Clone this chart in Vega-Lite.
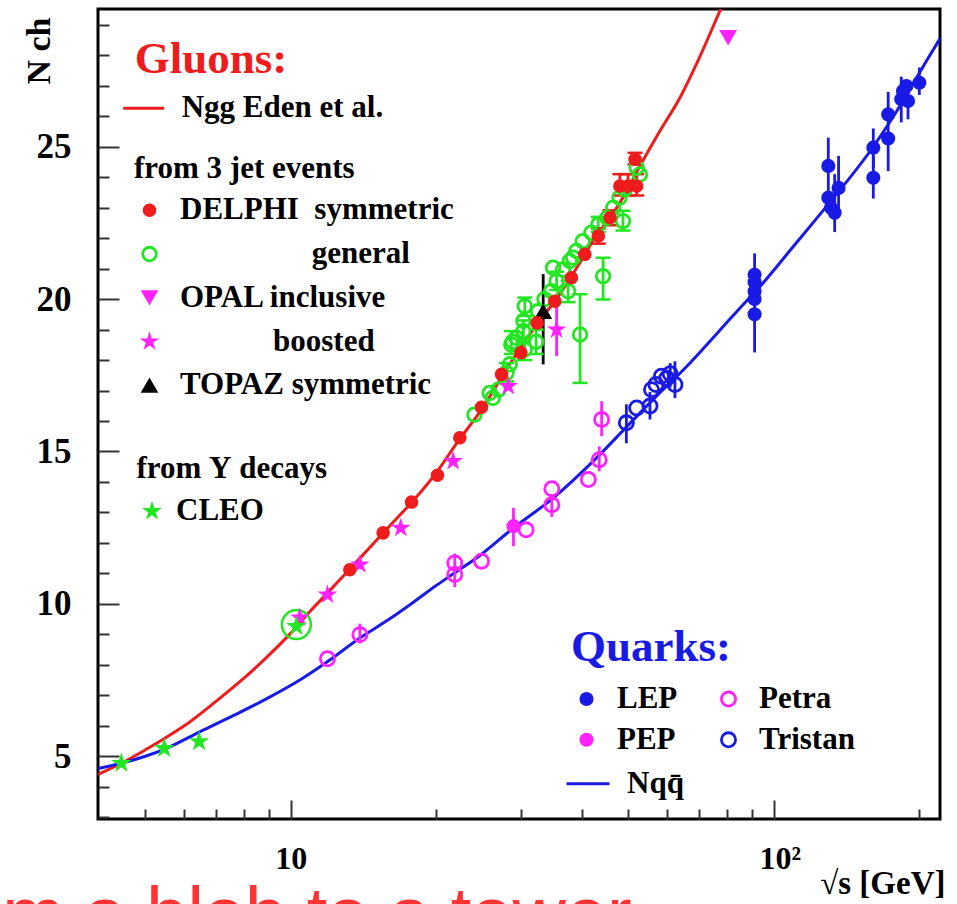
{
  "$schema": "https://vega.github.io/schema/vega-lite/v6.json",
  "width": 842,
  "height": 810,
  "autosize": {"type": "none"},
  "padding": {"left": 98, "top": 9, "right": 17, "bottom": 85},
  "background": "white",
  "config": {"view": {"stroke": "black", "strokeWidth": 3}, "axis": {"labelOverlap": false, "labelBound": false}},
  "title": {"text": "from a blob to a tower", "orient": "bottom", "anchor": "start", "frame": "group", "font": "Liberation Sans", "fontSize": 74, "fontWeight": "normal", "color": "#ff3333", "dx": -182, "dy": -19, "offset": 0},
  "encoding": {
    "x": {
      "field": "x", "type": "quantitative",
      "scale": {"type": "log", "domain": [3.99, 220.7], "nice": false},
      "axis": {
        "values": [5, 6, 7, 8, 9, 10, 20, 30, 40, 50, 60, 70, 80, 90, 100, 200],
        "domain": false, "grid": false,
        "tickColor": "#333333", "tickWidth": 2,
        "tickSize": {"condition": {"test": "datum.value === 10 || datum.value === 100", "value": -19}, "value": -10},
        "labelExpr": "datum.value === 10 ? '10' : datum.value === 100 ? '10²' : ''",
        "labelPadding": 43,
        "labelFont": "Liberation Serif", "labelFontWeight": "bold", "labelFontSize": 32, "labelColor": "black",
        "labelOverlap": false, "labelFlush": false,
        "labelAlign": {"condition": {"test": "datum.value === 100", "value": "left"}, "value": "center"},
        "labelOffset": {"condition": {"test": "datum.value === 100", "value": -15}, "value": 0},
        "title": "√s [GeV]",
        "titleFont": "Liberation Serif", "titleFontWeight": "bold", "titleFontSize": 33, "titleColor": "black",
        "titleAlign": "right", "titleBaseline": "alphabetic", "titleX": 847, "titleY": 74
      }
    },
    "y": {
      "field": "y", "type": "quantitative",
      "scale": {"domain": [2.94, 29.52], "nice": false, "zero": false},
      "axis": {
        "values": [3, 4, 5, 6, 7, 8, 9, 10, 11, 12, 13, 14, 15, 16, 17, 18, 19, 20, 21, 22, 23, 24, 25, 26, 27, 28, 29],
        "domain": false, "grid": false,
        "tickColor": "#333333", "tickWidth": 2,
        "tickSize": {"condition": {"test": "datum.value % 5 === 0", "value": -21}, "value": -11},
        "labelExpr": "(datum.value == 5 || datum.value == 10 || datum.value == 15 || datum.value == 20 || datum.value == 25) ? datum.label : ''",
        "labelFontSize": 35,
        "labelPadding": 48, "labelSeparation": 0,
        "labelFont": "Liberation Serif", "labelFontWeight": "bold", "labelColor": "black",
        "labelOverlap": "greedy", "labelFlush": false, "labelBound": false,
        "title": "N ch",
        "titleFont": "Liberation Serif", "titleFontWeight": "bold", "titleFontSize": 34, "titleColor": "black",
        "titleAngle": 270, "titleAlign": "right", "titleBaseline": "middle", "titleX": -59, "titleY": 8
      }
    }
  },
  "datasets": {
    "curves": [
      {"curve": "Ngg Eden et al.", "x": 3.99, "y": 4.40},
      {"curve": "Ngg Eden et al.", "x": 4.46, "y": 4.77},
      {"curve": "Ngg Eden et al.", "x": 5.0, "y": 5.21},
      {"curve": "Ngg Eden et al.", "x": 5.5, "y": 5.60},
      {"curve": "Ngg Eden et al.", "x": 6.0, "y": 5.98},
      {"curve": "Ngg Eden et al.", "x": 7.0, "y": 6.80},
      {"curve": "Ngg Eden et al.", "x": 8.0, "y": 7.56},
      {"curve": "Ngg Eden et al.", "x": 9.0, "y": 8.31},
      {"curve": "Ngg Eden et al.", "x": 10.0, "y": 9.04},
      {"curve": "Ngg Eden et al.", "x": 11.0, "y": 9.78},
      {"curve": "Ngg Eden et al.", "x": 12.0, "y": 10.41},
      {"curve": "Ngg Eden et al.", "x": 13.0, "y": 11.0},
      {"curve": "Ngg Eden et al.", "x": 14.0, "y": 11.55},
      {"curve": "Ngg Eden et al.", "x": 16.0, "y": 12.55},
      {"curve": "Ngg Eden et al.", "x": 18.0, "y": 13.42},
      {"curve": "Ngg Eden et al.", "x": 20.0, "y": 14.3},
      {"curve": "Ngg Eden et al.", "x": 22.0, "y": 15.25},
      {"curve": "Ngg Eden et al.", "x": 25.0, "y": 16.45},
      {"curve": "Ngg Eden et al.", "x": 28.0, "y": 17.72},
      {"curve": "Ngg Eden et al.", "x": 32.0, "y": 19.08},
      {"curve": "Ngg Eden et al.", "x": 36.0, "y": 20.15},
      {"curve": "Ngg Eden et al.", "x": 40.0, "y": 21.29},
      {"curve": "Ngg Eden et al.", "x": 43.0, "y": 22.12},
      {"curve": "Ngg Eden et al.", "x": 45.0, "y": 22.5},
      {"curve": "Ngg Eden et al.", "x": 48.7, "y": 23.33},
      {"curve": "Ngg Eden et al.", "x": 53.5, "y": 24.53},
      {"curve": "Ngg Eden et al.", "x": 58.0, "y": 25.5},
      {"curve": "Ngg Eden et al.", "x": 63.9, "y": 26.61},
      {"curve": "Ngg Eden et al.", "x": 70.0, "y": 27.9},
      {"curve": "Ngg Eden et al.", "x": 77.3, "y": 29.46},
      {"curve": "Ngg Eden et al.", "x": 82.0, "y": 30.4},
      {"curve": "Nqq̄", "x": 3.99, "y": 4.6},
      {"curve": "Nqq̄", "x": 4.46, "y": 4.77},
      {"curve": "Nqq̄", "x": 5.0, "y": 5.0},
      {"curve": "Nqq̄", "x": 5.53, "y": 5.26},
      {"curve": "Nqq̄", "x": 6.48, "y": 5.8},
      {"curve": "Nqq̄", "x": 7.6, "y": 6.33},
      {"curve": "Nqq̄", "x": 8.9, "y": 6.88},
      {"curve": "Nqq̄", "x": 10.44, "y": 7.5},
      {"curve": "Nqq̄", "x": 11.9, "y": 8.1},
      {"curve": "Nqq̄", "x": 13.9, "y": 8.88},
      {"curve": "Nqq̄", "x": 16.0, "y": 9.5},
      {"curve": "Nqq̄", "x": 18.0, "y": 10.07},
      {"curve": "Nqq̄", "x": 20.0, "y": 10.6},
      {"curve": "Nqq̄", "x": 21.85, "y": 11.02},
      {"curve": "Nqq̄", "x": 24.6, "y": 11.58},
      {"curve": "Nqq̄", "x": 28.8, "y": 12.47},
      {"curve": "Nqq̄", "x": 34.9, "y": 13.47},
      {"curve": "Nqq̄", "x": 43.0, "y": 14.8},
      {"curve": "Nqq̄", "x": 49.5, "y": 15.8},
      {"curve": "Nqq̄", "x": 57.0, "y": 16.8},
      {"curve": "Nqq̄", "x": 65.9, "y": 17.78},
      {"curve": "Nqq̄", "x": 76.0, "y": 18.85},
      {"curve": "Nqq̄", "x": 85.0, "y": 19.7},
      {"curve": "Nqq̄", "x": 93.4, "y": 20.4},
      {"curve": "Nqq̄", "x": 110.0, "y": 21.75},
      {"curve": "Nqq̄", "x": 128.6, "y": 23.05},
      {"curve": "Nqq̄", "x": 160.6, "y": 25.0},
      {"curve": "Nqq̄", "x": 185.0, "y": 26.5},
      {"curve": "Nqq̄", "x": 206.6, "y": 27.8},
      {"curve": "Nqq̄", "x": 220.7, "y": 28.55}
    ],
    "hl": [{"x": 10.27, "y": 9.32}],
    "pts": [
      {"series": "DELPHI\u00a0\u00a0symmetric", "x": 13.25, "y": 11.12},
      {"series": "DELPHI\u00a0\u00a0symmetric", "x": 15.53, "y": 12.33},
      {"series": "DELPHI\u00a0\u00a0symmetric", "x": 17.78, "y": 13.34},
      {"series": "DELPHI\u00a0\u00a0symmetric", "x": 20.12, "y": 14.22},
      {"series": "DELPHI\u00a0\u00a0symmetric", "x": 22.38, "y": 15.45},
      {"series": "DELPHI\u00a0\u00a0symmetric", "x": 24.82, "y": 16.45},
      {"series": "DELPHI\u00a0\u00a0symmetric", "x": 27.31, "y": 17.53},
      {"series": "DELPHI\u00a0\u00a0symmetric", "x": 29.94, "y": 18.24},
      {"series": "DELPHI\u00a0\u00a0symmetric", "x": 32.36, "y": 19.22},
      {"series": "DELPHI\u00a0\u00a0symmetric", "x": 35.2, "y": 19.93},
      {"series": "DELPHI\u00a0\u00a0symmetric", "x": 38.1, "y": 20.7},
      {"series": "DELPHI\u00a0\u00a0symmetric", "x": 40.6, "y": 21.47},
      {"series": "DELPHI\u00a0\u00a0symmetric", "x": 43.3, "y": 22.07, "lo": 21.82, "hi": 22.32},
      {"series": "DELPHI\u00a0\u00a0symmetric", "x": 45.8, "y": 22.67, "lo": 22.42, "hi": 22.92},
      {"series": "DELPHI\u00a0\u00a0symmetric", "x": 48.0, "y": 23.71, "lo": 23.4, "hi": 24.1},
      {"series": "DELPHI\u00a0\u00a0symmetric", "x": 49.9, "y": 23.71, "lo": 23.4, "hi": 24.1},
      {"series": "DELPHI\u00a0\u00a0symmetric", "x": 52.0, "y": 23.71, "lo": 23.4, "hi": 24.1},
      {"series": "DELPHI\u00a0\u00a0symmetric", "x": 51.6, "y": 24.59, "lo": 24.42, "hi": 24.8},
      {"series": "general", "x": 24.0, "y": 16.21},
      {"series": "general", "x": 25.8, "y": 16.92},
      {"series": "general", "x": 26.2, "y": 16.76},
      {"series": "general", "x": 26.9, "y": 17.03},
      {"series": "general", "x": 27.96, "y": 17.58, "lo": 17.3, "hi": 17.9},
      {"series": "general", "x": 28.4, "y": 17.86},
      {"series": "general", "x": 28.6, "y": 18.51, "lo": 18.2, "hi": 18.95},
      {"series": "general", "x": 28.8, "y": 18.6},
      {"series": "general", "x": 29.3, "y": 18.73},
      {"series": "general", "x": 30.3, "y": 18.95, "lo": 18.6, "hi": 19.3},
      {"series": "general", "x": 30.3, "y": 19.28},
      {"series": "general", "x": 30.5, "y": 19.77, "lo": 19.45, "hi": 20.05},
      {"series": "general", "x": 30.5, "y": 18.35, "lo": 18.0, "hi": 18.7},
      {"series": "general", "x": 32.2, "y": 18.6, "lo": 18.2, "hi": 19.0},
      {"series": "general", "x": 32.5, "y": 19.6},
      {"series": "general", "x": 33.5, "y": 20.0},
      {"series": "general", "x": 34.6, "y": 20.26},
      {"series": "general", "x": 34.9, "y": 21.03},
      {"series": "general", "x": 35.5, "y": 20.59, "lo": 20.3, "hi": 20.9},
      {"series": "general", "x": 36.6, "y": 20.97},
      {"series": "general", "x": 37.5, "y": 20.26, "lo": 19.9, "hi": 20.6},
      {"series": "general", "x": 37.8, "y": 21.25},
      {"series": "general", "x": 38.4, "y": 21.36},
      {"series": "general", "x": 39.0, "y": 21.58},
      {"series": "general", "x": 39.7, "y": 18.84, "lo": 17.25, "hi": 20.16},
      {"series": "general", "x": 40.2, "y": 21.9},
      {"series": "general", "x": 41.9, "y": 22.18},
      {"series": "general", "x": 43.3, "y": 22.45, "lo": 22.2, "hi": 22.7},
      {"series": "general", "x": 44.3, "y": 20.75, "lo": 19.99, "hi": 21.36},
      {"series": "general", "x": 45.2, "y": 22.67},
      {"series": "general", "x": 46.5, "y": 23.0},
      {"series": "general", "x": 47.9, "y": 23.33},
      {"series": "general", "x": 48.7, "y": 22.56, "lo": 22.25, "hi": 22.9},
      {"series": "general", "x": 49.1, "y": 23.6},
      {"series": "general", "x": 52.0, "y": 24.31},
      {"series": "general", "x": 52.8, "y": 24.09},
      {"series": "boosted", "x": 10.44, "y": 9.55},
      {"series": "boosted", "x": 11.91, "y": 10.3},
      {"series": "boosted", "x": 13.9, "y": 11.29},
      {"series": "boosted", "x": 16.89, "y": 12.49},
      {"series": "boosted", "x": 21.68, "y": 14.68},
      {"series": "boosted", "x": 28.2, "y": 17.14},
      {"series": "boosted", "x": 35.5, "y": 19.0, "lo": 18.13, "hi": 19.84},
      {"series": "OPAL inclusive", "x": 80.4, "y": 28.58},
      {"series": "TOPAZ symmetric", "x": 33.3, "y": 19.6, "lo": 17.86, "hi": 20.82},
      {"series": "CLEO", "x": 4.46, "y": 4.77},
      {"series": "CLEO", "x": 5.47, "y": 5.26},
      {"series": "CLEO", "x": 6.46, "y": 5.48},
      {"series": "CLEO", "x": 10.27, "y": 9.26},
      {"series": "LEP", "x": 91.2, "y": 20.8, "lo": 20.1, "hi": 21.5},
      {"series": "LEP", "x": 91.2, "y": 20.55},
      {"series": "LEP", "x": 91.2, "y": 20.25},
      {"series": "LEP", "x": 91.2, "y": 20.0},
      {"series": "LEP", "x": 91.2, "y": 19.5, "lo": 18.25, "hi": 20.3},
      {"series": "LEP", "x": 129.6, "y": 24.37, "lo": 23.4, "hi": 25.3},
      {"series": "LEP", "x": 129.6, "y": 23.33},
      {"series": "LEP", "x": 131.3, "y": 23.0},
      {"series": "LEP", "x": 133.6, "y": 22.83, "lo": 22.2, "hi": 24.1},
      {"series": "LEP", "x": 136.1, "y": 23.65, "lo": 22.7, "hi": 24.7},
      {"series": "LEP", "x": 160.6, "y": 24.97, "lo": 24.3, "hi": 25.6},
      {"series": "LEP", "x": 160.6, "y": 23.98, "lo": 23.3, "hi": 24.7},
      {"series": "LEP", "x": 172.4, "y": 26.06, "lo": 24.2, "hi": 26.8},
      {"series": "LEP", "x": 172.4, "y": 25.27},
      {"series": "LEP", "x": 183.5, "y": 26.56, "lo": 25.8, "hi": 27.3},
      {"series": "LEP", "x": 185.0, "y": 26.83},
      {"series": "LEP", "x": 188.0, "y": 26.99},
      {"series": "LEP", "x": 189.5, "y": 26.5, "lo": 25.9, "hi": 27.1},
      {"series": "LEP", "x": 200.0, "y": 27.1, "lo": 26.7, "hi": 27.6},
      {"series": "Petra", "x": 11.91, "y": 8.2},
      {"series": "Petra", "x": 13.9, "y": 8.99, "lo": 8.7, "hi": 9.35},
      {"series": "Petra", "x": 21.85, "y": 11.34, "lo": 11.1, "hi": 11.65},
      {"series": "Petra", "x": 21.85, "y": 10.96, "lo": 10.55, "hi": 11.2},
      {"series": "Petra", "x": 24.82, "y": 11.4},
      {"series": "Petra", "x": 30.7, "y": 12.43},
      {"series": "Petra", "x": 34.7, "y": 13.78},
      {"series": "Petra", "x": 34.7, "y": 13.25, "lo": 12.85, "hi": 13.6},
      {"series": "Petra", "x": 41.3, "y": 14.08},
      {"series": "Petra", "x": 43.5, "y": 14.73, "lo": 14.35, "hi": 15.17},
      {"series": "Petra", "x": 44.0, "y": 16.05, "lo": 15.5, "hi": 16.65},
      {"series": "PEP", "x": 28.9, "y": 12.55, "lo": 11.89, "hi": 13.15},
      {"series": "Tristan", "x": 49.5, "y": 15.94, "lo": 15.27, "hi": 16.55},
      {"series": "Tristan", "x": 52.0, "y": 16.43},
      {"series": "Tristan", "x": 55.4, "y": 16.49, "lo": 16.05, "hi": 16.95},
      {"series": "Tristan", "x": 55.8, "y": 17.03},
      {"series": "Tristan", "x": 57.0, "y": 17.2},
      {"series": "Tristan", "x": 58.5, "y": 17.47},
      {"series": "Tristan", "x": 60.0, "y": 17.4},
      {"series": "Tristan", "x": 62.4, "y": 17.2, "lo": 16.75, "hi": 17.96},
      {"series": "Tristan", "x": 61.0, "y": 17.55, "lo": 17.1, "hi": 17.9}
    ]
  },
  "layer": [
    {
      "data": {"name": "curves"},
      "transform": [{"filter": {"field": "curve", "equal": "Ngg Eden et al."}}],
      "mark": {"type": "line", "clip": true, "strokeWidth": 3, "interpolate": "monotone"},
      "encoding": {
        "stroke": {
          "field": "curve", "type": "nominal",
          "scale": {"domain": ["Ngg Eden et al."], "range": ["#ee1c1c"]},
          "legend": {
            "title": "Gluons:",
            "orient": "none", "legendX": 23.7, "legendY": 27.8, "padding": 0,
            "titleFont": "Liberation Serif", "titleFontWeight": "bold", "titleFontSize": 45, "titleColor": "#ee1c1c", "titlePadding": 4.5,
            "labelFont": "Liberation Serif", "labelFontWeight": "bold", "labelFontSize": 31, "labelColor": "black", "labelLimit": 600,
            "labelOffset": 16, "symbolSize": 1681, "symbolStrokeWidth": 3, "symbolType": "stroke",
            "encode": {"title": {"update": {"dx": {"value": 13}}}}
          }
        }
      }
    },
    {
      "data": {"name": "curves"},
      "transform": [{"filter": {"field": "curve", "equal": "Nqq̄"}}],
      "mark": {"type": "line", "clip": true, "strokeWidth": 3, "interpolate": "monotone"},
      "encoding": {
        "stroke": {
          "field": "curve", "type": "nominal",
          "scale": {"domain": ["Nqq̄"], "range": ["#1a1ae6"]},
          "legend": {
            "title": null,
            "orient": "none", "legendX": 467, "legendY": 751.8, "padding": 0,
            "labelFont": "Liberation Serif", "labelFontWeight": "bold", "labelFontSize": 31, "labelColor": "black", "labelLimit": 600,
            "labelOffset": 16, "symbolSize": 1849, "symbolStrokeWidth": 3, "symbolType": "stroke"
          }
        }
      }
    },
    {
      "data": {"name": "pts"},
      "transform": [{"filter": "isValid(datum.lo)"}, {"fold": ["lo"], "as": ["end", "y"]}],
      "mark": {"type": "rule", "strokeWidth": 2.8},
      "encoding": {
        "y2": {"field": "hi"},
        "stroke": {
          "field": "series", "type": "nominal",
          "scale": {
            "domain": ["DELPHI\u00a0\u00a0symmetric", "general", "boosted", "TOPAZ symmetric", "LEP", "Petra", "PEP", "Tristan"],
            "range": ["#ee1c1c", "#22e622", "#ff22ff", "black", "#1a1ae6", "#ff22ff", "#ff22ff", "#1a1ae6"]
          },
          "legend": null
        }
      }
    },
    {
      "data": {"name": "pts"},
      "transform": [
        {"filter": "isValid(datum.lo) && (datum.series === 'general' || indexof(datum.series, 'DELPHI') === 0)"},
        {"fold": ["lo", "hi"], "as": ["end", "y"]}
      ],
      "mark": {"type": "tick", "orient": "horizontal", "size": 15, "thickness": 2.5, "opacity": 1},
      "encoding": {
        "color": {
          "field": "series", "type": "nominal",
          "scale": {"domain": ["DELPHI\u00a0\u00a0symmetric", "general"], "range": ["#ee1c1c", "#22e622"]},
          "legend": null
        }
      }
    },
    {
      "data": {"name": "hl"},
      "mark": {"type": "point", "shape": "circle", "size": 841, "filled": false, "stroke": "#22e622", "strokeWidth": 2.5, "opacity": 1}
    },
    {
      "data": {"name": "pts"},
      "transform": [{"filter": {"field": "series", "equal": "general"}}],
      "mark": {"type": "point", "shape": "circle", "size": 185, "filled": false, "stroke": "#22e622", "strokeWidth": 2.8, "opacity": 1}
    },
    {
      "data": {"name": "pts"},
      "transform": [{"filter": {"field": "series", "equal": "boosted"}}],
      "mark": {"type": "point", "shape": "M0,-1L0.2245,-0.309L0.9511,-0.309L0.3633,0.118L0.5878,0.809L0,0.382L-0.5878,0.809L-0.3633,0.118L-0.9511,-0.309L-0.2245,-0.309Z", "size": 420, "filled": true, "fill": "#ff22ff", "strokeWidth": 0, "opacity": 1}
    },
    {
      "data": {"name": "pts"},
      "transform": [{"filter": {"field": "series", "equal": "OPAL inclusive"}}],
      "mark": {"type": "point", "shape": "triangle-down", "size": 320, "filled": true, "fill": "#ff22ff", "strokeWidth": 0, "opacity": 1}
    },
    {
      "data": {"name": "pts"},
      "transform": [{"filter": {"field": "series", "equal": "TOPAZ symmetric"}}],
      "mark": {"type": "point", "shape": "triangle-up", "size": 320, "filled": true, "fill": "black", "strokeWidth": 0, "opacity": 1}
    },
    {
      "data": {"name": "pts"},
      "transform": [{"filter": {"field": "series", "equal": "CLEO"}}],
      "mark": {"type": "point", "size": 460, "filled": true, "fill": "#22e622", "strokeWidth": 0, "opacity": 1},
      "encoding": {
        "shape": {
          "field": "series", "type": "nominal",
          "scale": {"domain": ["CLEO"], "range": ["M0,-1L0.2245,-0.309L0.9511,-0.309L0.3633,0.118L0.5878,0.809L0,0.382L-0.5878,0.809L-0.3633,0.118L-0.9511,-0.309L-0.2245,-0.309Z"]},
          "legend": {
            "title": "from Υ decays", "orient": "none", "legendX": 38.5, "legendY": 445.2, "padding": 0,
            "titleFont": "Liberation Serif", "titleFontWeight": "bold", "titleFontSize": 31, "titleColor": "black", "titlePadding": 10.5, "titleLimit": 600,
            "labelFont": "Liberation Serif", "labelFontWeight": "bold", "labelFontSize": 31, "labelColor": "black", "labelLimit": 600,
            "labelOffset": 8.5, "symbolSize": 430, "symbolStrokeWidth": 0
          }
        }
      }
    },
    {
      "data": {"name": "pts"},
      "transform": [{"filter": {"field": "series", "equal": "DELPHI\u00a0\u00a0symmetric"}}],
      "mark": {"type": "point", "opacity": 1, "strokeWidth": 2.8, "size": 185},
      "encoding": {
        "shape": {
          "field": "series", "type": "nominal",
          "scale": {
            "domain": ["DELPHI\u00a0\u00a0symmetric", "\u200b\u00a0\u00a0\u00a0\u00a0\u00a0\u00a0\u00a0\u00a0\u00a0\u00a0\u00a0\u00a0\u00a0\u00a0\u00a0\u00a0\u00a0general", "OPAL inclusive", "\u200b\u00a0\u00a0\u00a0\u00a0\u00a0\u00a0\u00a0\u00a0\u00a0\u00a0\u00a0\u00a0boosted", "TOPAZ symmetric"],
            "range": ["circle", "circle", "M-1.3,-1.1L1.3,-1.1L0,1.15Z", "M0,-1.5L0.337,-0.464L1.427,-0.464L0.545,0.177L0.882,1.214L0,0.573L-0.882,1.214L-0.545,0.177L-1.427,-0.464L-0.337,-0.464Z", "M-1.3,1.1L1.3,1.1L0,-1.15Z"]
          },
          "legend": {
            "title": "from 3 jet events", "orient": "none", "legendX": 36, "legendY": 145.2, "padding": 0, "rowPadding": 11.75,
            "titleFont": "Liberation Serif", "titleFontWeight": "bold", "titleFontSize": 31, "titleColor": "black", "titlePadding": 9.6, "titleLimit": 600,
            "labelFont": "Liberation Serif", "labelFontWeight": "bold", "labelFontSize": 31, "labelColor": "black", "labelLimit": 600,
            "labelOffset": 15, "symbolSize": 185, "symbolStrokeWidth": 2.8
          }
        },
        "fill": {
          "field": "series", "type": "nominal",
          "scale": {
            "domain": ["DELPHI\u00a0\u00a0symmetric", "\u200b\u00a0\u00a0\u00a0\u00a0\u00a0\u00a0\u00a0\u00a0\u00a0\u00a0\u00a0\u00a0\u00a0\u00a0\u00a0\u00a0\u00a0general", "OPAL inclusive", "\u200b\u00a0\u00a0\u00a0\u00a0\u00a0\u00a0\u00a0\u00a0\u00a0\u00a0\u00a0\u00a0boosted", "TOPAZ symmetric"],
            "range": ["#ee1c1c", "transparent", "#ff22ff", "#ff22ff", "black"]
          },
          "legend": null
        },
        "stroke": {
          "field": "series", "type": "nominal",
          "scale": {
            "domain": ["DELPHI\u00a0\u00a0symmetric", "\u200b\u00a0\u00a0\u00a0\u00a0\u00a0\u00a0\u00a0\u00a0\u00a0\u00a0\u00a0\u00a0\u00a0\u00a0\u00a0\u00a0\u00a0general", "OPAL inclusive", "\u200b\u00a0\u00a0\u00a0\u00a0\u00a0\u00a0\u00a0\u00a0\u00a0\u00a0\u00a0\u00a0boosted", "TOPAZ symmetric"],
            "range": ["transparent", "#22e622", "transparent", "transparent", "transparent"]
          },
          "legend": null
        }
      }
    },
    {
      "data": {"name": "pts"},
      "transform": [{"filter": {"field": "series", "oneOf": ["LEP", "Petra", "PEP", "Tristan"]}}],
      "mark": {"type": "point", "opacity": 1, "strokeWidth": 2.8, "size": 200},
      "encoding": {
        "shape": {
          "field": "series", "type": "nominal",
          "scale": {"domain": ["LEP", "PEP", "Petra", "Tristan"], "range": ["circle", "circle", "circle", "circle"]},
          "legend": {
            "title": "Quarks:", "orient": "none", "legendX": 473, "legendY": 615.8, "padding": 0,
            "columns": 2, "columnPadding": 35, "rowPadding": 9,
            "titleFont": "Liberation Serif", "titleFontWeight": "bold", "titleFontSize": 45, "titleColor": "#1a1ae6", "titlePadding": 13.5,
            "labelFont": "Liberation Serif", "labelFontWeight": "bold", "labelFontSize": 31, "labelColor": "black", "labelLimit": 600,
            "labelOffset": 15, "symbolSize": 200, "symbolStrokeWidth": 2.8
          }
        },
        "fill": {
          "field": "series", "type": "nominal",
          "scale": {"domain": ["LEP", "PEP", "Petra", "Tristan"], "range": ["#1a1ae6", "#ff22ff", "transparent", "transparent"]},
          "legend": null
        },
        "stroke": {
          "field": "series", "type": "nominal",
          "scale": {"domain": ["LEP", "PEP", "Petra", "Tristan"], "range": ["transparent", "transparent", "#ff22ff", "#1a1ae6"]},
          "legend": null
        }
      }
    }
  ],
  "resolve": {"scale": {"shape": "independent", "fill": "independent", "stroke": "independent", "color": "independent"}}
}
